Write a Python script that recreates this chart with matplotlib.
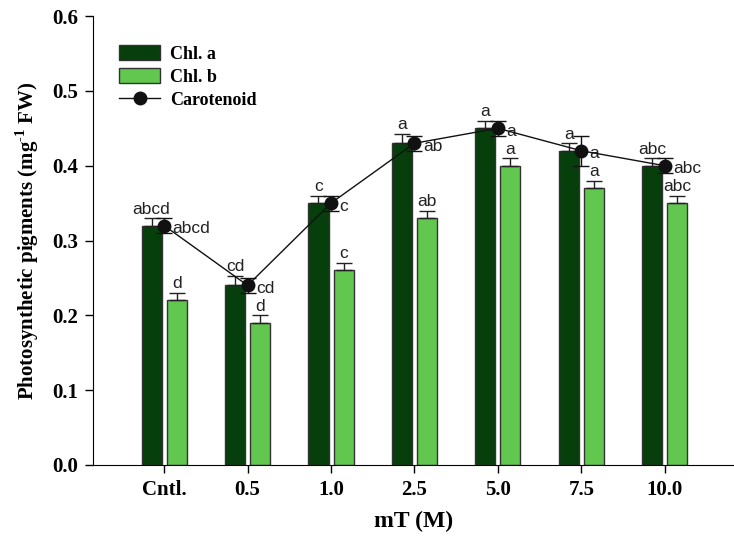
import numpy as np
import matplotlib.pyplot as plt
from matplotlib.patches import Patch
from matplotlib.lines import Line2D

categories = ["Cntl.", "0.5", "1.0", "2.5", "5.0", "7.5", "10.0"]
chl_a = [0.32, 0.24, 0.35, 0.43, 0.45, 0.42, 0.40]
chl_a_err = [0.01, 0.013, 0.01, 0.013, 0.01, 0.01, 0.01]
chl_b = [0.22, 0.19, 0.26, 0.33, 0.40, 0.37, 0.35]
chl_b_err = [0.01, 0.01, 0.01, 0.01, 0.01, 0.01, 0.01]
carot = [0.32, 0.24, 0.35, 0.43, 0.45, 0.42, 0.40]
carot_err = [0.01, 0.01, 0.01, 0.01, 0.01, 0.02, 0.01]
letters_a = ["abcd", "cd", "c", "a", "a", "a", "abc"]
letters_b = ["d", "d", "c", "ab", "a", "a", "abc"]
letters_c = ["abcd", "cd", "c", "ab", "a", "a", "abc"]

serif = "Liberation Serif"
sans = "Liberation Sans"
dark = "#063f0b"
light = "#62c74e"

plt.rcParams["mathtext.fontset"] = "custom"
plt.rcParams["mathtext.rm"] = "Liberation Serif:bold"
plt.rcParams["mathtext.bf"] = "Liberation Serif:bold"

fig = plt.figure(figsize=(7.34, 5.36), dpi=100)
ax = fig.add_axes([0.127, 0.1325, 0.873, 0.8375])

x = np.arange(len(categories))
w = 0.24
off = 0.15
ekw = dict(elinewidth=1, capthick=1, ecolor="#222222")
ax.bar(x - off, chl_a, w, color=dark, edgecolor="#333333", linewidth=1,
       yerr=[np.zeros(len(x)), chl_a_err], capsize=6, error_kw=ekw)
ax.bar(x + off, chl_b, w, color=light, edgecolor="#333333", linewidth=1,
       yerr=[np.zeros(len(x)), chl_b_err], capsize=6, error_kw=ekw)
ax.errorbar(x, carot, yerr=carot_err, color="#111111", marker="o", markersize=9,
            linewidth=1, capsize=6, elinewidth=1, capthick=1, zorder=5)

for i in range(len(x)):
    ax.text(x[i] - off, chl_a[i] + chl_a_err[i] + 0.002, letters_a[i], ha="center",
            va="bottom", fontsize=12.5, family=sans, color="#222222")
    ax.text(x[i] + off, chl_b[i] + chl_b_err[i] + 0.002, letters_b[i], ha="center",
            va="bottom", fontsize=12.5, family=sans, color="#222222")
    ax.text(x[i] + 0.1, carot[i] - 0.004, letters_c[i], ha="left", va="center",
            fontsize=12.5, family=sans, color="#222222")

ax.set_xlim(-0.85, 6.83)
ax.set_ylim(0, 0.6)
ax.set_yticks(np.arange(0, 0.61, 0.1))
ax.set_yticklabels(["%.1f" % v for v in np.arange(0, 0.61, 0.1)],
                   fontsize=15, family=serif, fontweight="bold")
ax.set_xticks(x)
ax.set_xticklabels(categories, fontsize=15, family=serif, fontweight="bold")
ax.tick_params(axis="both", direction="out", length=6, width=1, pad=5)
ax.spines["top"].set_visible(False)
ax.spines["right"].set_visible(False)

ax.set_xlabel("mT (M)", fontsize=17, family=serif, fontweight="bold", labelpad=8)
ax.set_ylabel(r"Photosynthetic pigments (mg$^{\text{-1}}$ FW)", fontsize=15,
              family=serif, fontweight="bold", labelpad=8)

handles = [Patch(facecolor=dark, edgecolor="#333333"),
           Patch(facecolor=light, edgecolor="#333333"),
           Line2D([0], [0], color="#111111", marker="o", markersize=9, linewidth=1)]
ax.legend(handles, ["Chl. a", "Chl. b", "Carotenoid"], loc="upper left",
          bbox_to_anchor=(0.04, 0.936), frameon=False, borderpad=0,
          borderaxespad=0, handlelength=2.3, handleheight=0.9,
          handletextpad=0.55, labelspacing=0.3,
          prop={"family": serif, "weight": "bold", "size": 13})

fig.savefig("out.png", dpi=100)
